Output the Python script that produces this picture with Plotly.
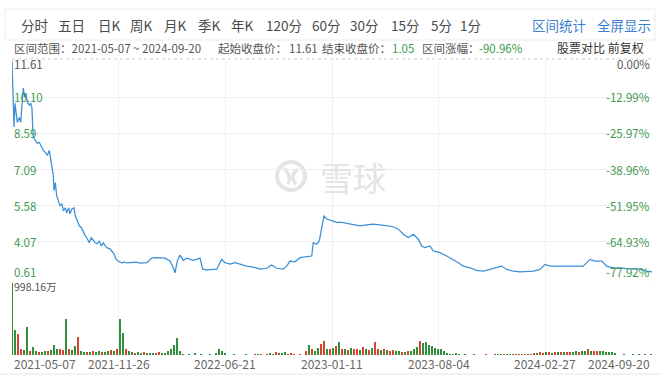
import plotly.graph_objects as go

W, H = 660, 376

# ---------------- data ----------------
price_t = [0, 2, 3, 4, 5.3, 7.3, 8.7, 10, 11.3, 12.7, 14, 15.3, 17.3, 18.7, 20, 20.7, 21.3, 23.3, 25.3,
           27.3, 29.3, 31.3, 33.3, 35.3, 37.3, 38.7, 40, 41.3, 42, 43.3, 44.7, 46.7, 48, 50, 51.3, 53.3,
           54.7, 56.7, 58, 60, 62, 63.3, 65.3, 67.3, 69.3, 71.3, 73.3, 75.3, 77.3, 79.3, 81.3, 83.3, 85.3,
           87.3, 89.3, 91.3, 93.3, 95.3, 98, 100, 102, 104, 106, 108, 110, 112, 114.7, 118, 124, 128,
           134.7, 139.7, 144.7, 153, 158, 161.3, 163, 165.3, 168, 171.3, 174.7, 181.3, 188, 190.7, 194.7,
           204.7, 209.7, 213, 218, 223, 228, 234.7, 241.3, 248, 254.7, 259.7, 264.7, 271.3, 274.7, 278,
           283, 288, 293, 299.7, 301.3, 304.7, 307.3, 309.7, 312, 314.7, 319.7, 324.7, 329.7, 334.7,
           341.3, 348, 354.7, 361.3, 368, 374.7, 381.3, 386.3, 391.3, 396.3, 401.3, 406.3, 409.7, 413,
           418, 421.3, 428, 434.7, 441.3, 446.3, 451.3, 458, 464.7, 471.3, 478, 484.7, 489.7, 494.7,
           501.3, 508, 514.7, 521.3, 528, 533, 538, 544.7, 551.3, 558, 564.7, 571.3, 578, 583, 589.7,
           594.7, 601.3, 608, 614.7, 621.3, 628, 634.7, 640]
price_v = [11.61, 8.86, 9.85, 9.43, 9.05, 9.26, 9.05, 9.77, 10.48, 10.10, 10.27, 9.89, 9.77, 9.85, 9.64,
           8.85, 8.43, 8.30, 8.18, 8.22, 8.01, 7.88, 7.80, 7.67, 7.88, 7.55, 7.25, 6.83, 6.21, 6.54, 6.00,
           5.70, 5.58, 5.66, 5.37, 5.49, 5.28, 5.49, 5.24, 5.45, 5.49, 5.16, 4.95, 4.74, 4.66, 4.45, 4.32,
           4.20, 4.03, 4.24, 4.11, 4.03, 3.99, 4.11, 3.90, 4.03, 3.90, 3.82, 3.78, 3.69, 3.57, 3.36, 3.27,
           3.23, 3.19, 3.23, 3.19, 3.20, 3.22, 3.18, 3.20, 3.39, 3.41, 3.39, 3.27, 2.99, 2.78, 3.27, 3.52,
           3.30, 3.39, 3.30, 3.39, 2.93, 2.90, 2.93, 3.34, 3.20, 3.14, 3.20, 3.14, 3.06, 3.02, 2.93, 2.97,
           3.11, 2.97, 2.93, 3.06, 3.27, 3.24, 3.41, 3.44, 3.48, 4.04, 3.97, 4.11, 4.67, 5.16, 5.02, 4.95,
           4.88, 4.88, 4.84, 4.81, 4.74, 4.78, 4.81, 4.78, 4.74, 4.70, 4.60, 4.39, 4.25, 4.39, 4.18, 3.90,
           3.83, 3.90, 3.69, 3.62, 3.48, 3.34, 3.20, 3.06, 2.99, 2.88, 2.85, 2.92, 2.99, 3.06, 2.92, 2.85,
           2.82, 2.82, 2.85, 2.92, 3.13, 3.06, 3.06, 3.09, 3.06, 3.06, 3.06, 3.34, 3.27, 3.27, 3.06, 2.99,
           2.99, 2.95, 2.93, 2.93, 2.85, 2.82]

vol_step = 3
vol_v = [998, 340, 290, 80, 70, 388, 60, 111, 50, 45, 40, 55, 60, 70, 139, 80, 90, 75, 500, 90,
         70, 120, 254, 60, 45, 35, 40, 50, 35, 55, 45, 40, 60, 70, 55, 90, 500, 305, 90, 60,
         40, 30, 35, 30, 40, 30, 25, 30, 25, 35, 25, 30, 60, 80, 139, 235, 60, 20, 0, 15,
         0, 25, 0, 10, 0, 0, 20, 0, 30, 83, 50, 30, 0, 0, 10, 0, 0, 0, 10, 0,
         0, 20, 15, 20, 0, 20, 25, 15, 40, 30, 25, 45, 20, 30, 20, 0, 15, 0, 60, 139,
         90, 60, 100, 150, 190, 90, 80, 100, 120, 180, 80, 90, 70, 100, 80, 90, 70, 110, 80, 70,
         100, 180, 90, 75, 85, 70, 60, 65, 55, 50, 45, 40, 50, 60, 80, 110, 200, 160, 180, 140,
         120, 100, 90, 80, 60, 30, 20, 15, 25, 10, 0, 15, 0, 0, 10, 0, 0, 0, 8, 0,
         0, 8, 10, 8, 10, 8, 10, 8, 10, 12, 10, 8, 10, 12, 25, 30, 35, 30, 40, 35,
         30, 45, 40, 35, 40, 35, 45, 40, 50, 45, 55, 60, 88, 60, 55, 50, 60, 55, 40, 45,
         35, 30, 0, 0, 8, 0, 0, 8, 0, 8, 0, 8, 0, 8]
vol_dir = list("ggrrggrggrggrgg" "grrgrggrggrgrggrggrg" "rggrggrggrgggrrggggg"
               "gggggggrgrggggggggg" "grgggrgrgrgrggrgggrr" "rgrrrgrggrrgrgrgrgrg"
               "rrgrgrgrrgrgrrggrgrg" "ggrggggggggggggggggg" "ggggrggrggrggrrgrrgr"
               "rgrrgrgrgrgrrggrggrg" "rrgggggggggggg")

x_tick_labels = ["2021-05-07", "2021-11-26", "2022-06-21", "2023-01-11",
                 "2023-08-04", "2024-02-27", "2024-09-20"]
price_base = 11.61
pct_ticks = [0.00, -12.99, -25.97, -38.96, -51.95, -64.93, -77.92]
price_tick_labels = ["11.61", "10.10", "8.59", "7.09", "5.58", "4.07", "0.61"]
vol_max = 998.16
vol_max_label = "998.16万"

toolbar_items = ["分时", "五日", "日K", "周K", "月K", "季K", "年K", "120分", "60分", "30分", "15分", "5分", "1分"]
toolbar_x = [19, 56, 96, 128, 162, 196, 229, 264, 310, 348, 389, 429, 458]

# ---------------- helpers ----------------
def px(x):
    return x / W


def py(y):
    return 1 - y / H


T_MAX = 640
x_tick_pos = [i * T_MAX / 6 for i in range(7)]
price_tick_pos = [price_base * (1 + p / 100) for p in pct_ticks]

vol_t = [i * vol_step for i in range(len(vol_v))]
RED, GREEN = "#d8452e", "#2f8f3f"
vol_colors = [RED if d == "r" else GREEN for d in vol_dir[:len(vol_v)]]
while len(vol_colors) < len(vol_v):
    vol_colors.append(GREEN)

FONT = "Noto Sans CJK SC"
GRID = "#efefef"
TXT = "#555555"
GRN = "#3f9a50"
BLUE = "#3d7fd0"

fig = go.Figure()
fig.add_trace(go.Scatter(x=price_t, y=price_v, mode="lines",
                         line=dict(color="#3b8fd8", width=1.25),
                         xaxis="x", yaxis="y", hoverinfo="skip"))
fig.add_trace(go.Bar(x=vol_t, y=vol_v, marker=dict(color=vol_colors, line=dict(width=0)),
                     width=1.6, xaxis="x2", yaxis="y2", hoverinfo="skip"))

xdom = [px(12), px(652)]
fig.update_layout(
    width=W, height=H, margin=dict(l=0, r=0, t=0, b=0),
    paper_bgcolor="white", plot_bgcolor="white", showlegend=False,
    font=dict(family=FONT, color=TXT),
    bargap=0,
    xaxis=dict(domain=xdom, range=[0, T_MAX], tickvals=x_tick_pos, showticklabels=False,
               showgrid=True, gridcolor=GRID, zeroline=False, showline=False, anchor="y"),
    yaxis=dict(domain=[py(278), py(61)], range=[price_tick_pos[-1], price_tick_pos[0]],
               tickvals=price_tick_pos[1:6], showticklabels=False, showgrid=True,
               gridcolor=GRID, zeroline=False, anchor="x"),
    xaxis2=dict(domain=xdom, range=[0, T_MAX], tickvals=x_tick_pos, showticklabels=False,
                showgrid=True, gridcolor=GRID, zeroline=False, anchor="y2"),
    yaxis2=dict(domain=[py(355), py(283)], range=[0, vol_max], showticklabels=False,
                showgrid=False, zeroline=False, anchor="x2"),
)

shapes = []
shapes.append(dict(type="rect", xref="paper", yref="paper", x0=px(5), x1=px(655), y0=py(40), y1=py(9),
                   line=dict(color="#ececec", width=1), fillcolor="rgba(0,0,0,0)", layer="below"))
shapes.append(dict(type="line", xref="paper", yref="paper", x0=px(12), x1=px(652), y0=py(59), y1=py(59),
                   line=dict(color="#cfcfcf", width=1, dash="dot")))
for t in x_tick_pos:
    shapes.append(dict(type="line", xref="x", yref="paper", x0=t, x1=t, y0=py(283), y1=py(278),
                       line=dict(color=GRID, width=1), layer="below"))
shapes.append(dict(type="line", xref="paper", yref="paper", x0=px(0), x1=px(660), y0=py(374), y1=py(374),
                   line=dict(color="#e6e6e6", width=1)))
shapes.append(dict(type="circle", xref="paper", yref="paper", x0=px(277), x1=px(305), y0=py(190), y1=py(162),
                   line=dict(color="#e4e4e4", width=4), layer="below"))
shapes.append(dict(type="path", xref="paper", yref="paper",
                   path=f"M {px(284)},{py(168)} Q {px(292)},{py(176)} {px(288)},{py(184)} "
                        f"M {px(298)},{py(169)} Q {px(289)},{py(176)} {px(296)},{py(184)}",
                   line=dict(color="#e4e4e4", width=3.5), layer="below"))
fig.update_layout(shapes=shapes)

ann = []
ann.append(dict(text="雪球", x=px(318), y=py(177), xref="paper", yref="paper", xanchor="left",
                yanchor="middle", showarrow=False, font=dict(size=33, color="#e4e4e4", family=FONT)))
for lab, xx in zip(toolbar_items, toolbar_x):
    ann.append(dict(text=lab, x=px(xx), y=py(25), xref="paper", yref="paper", xanchor="left",
                    yanchor="middle", showarrow=False, font=dict(size=13.5, color="#4a4a4a")))
ann.append(dict(text="区间统计", x=px(530), y=py(25), xref="paper", yref="paper", xanchor="left",
                yanchor="middle", showarrow=False, font=dict(size=13.5, color=BLUE)))
ann.append(dict(text="全屏显示", x=px(595), y=py(25), xref="paper", yref="paper", xanchor="left",
                yanchor="middle", showarrow=False, font=dict(size=13.5, color=BLUE)))
info = [("区间范围：2021-05-07 ~ 2024-09-20", 12, TXT),
        ("起始收盘价：", 216, TXT), ("11.61", 287, TXT),
        ("结束收盘价：", 320, TXT), ("1.05", 390, GRN),
        ("区间涨幅：", 420, TXT), ("-90.96%", 477, GRN)]
for txt, xx, col in info:
    ann.append(dict(text=txt, x=px(xx), y=py(48), xref="paper", yref="paper", xanchor="left",
                    yanchor="middle", showarrow=False, font=dict(size=11.5, color=col)))
ann.append(dict(text="股票对比 前复权", x=px(646), y=py(48), xref="paper", yref="paper", xanchor="right",
                yanchor="middle", showarrow=False, font=dict(size=12, color="#333333")))
n = len(price_tick_pos)
for i, (pv, lab, pc) in enumerate(zip(price_tick_pos, price_tick_labels, pct_ticks)):
    shift = -3 if i == 0 else (6 if i == n - 1 else 0)
    col = TXT if i == 0 else GRN
    ann.append(dict(text=lab, x=px(12), y=pv, xref="paper", yref="y", xanchor="left", yanchor="middle",
                    yshift=shift, showarrow=False, font=dict(size=11.5, color=col)))
    ann.append(dict(text=f"{pc:.2f}%", x=px(652), y=pv, xref="paper", yref="y", xanchor="right",
                    yanchor="middle", yshift=shift, showarrow=False, font=dict(size=11.5, color=col)))
ann.append(dict(text=vol_max_label, x=px(12), y=vol_max, xref="paper", yref="y2", xanchor="left",
                yanchor="middle", yshift=-3, showarrow=False, font=dict(size=10.5, color=TXT)))
for i, (t, lab) in enumerate(zip(x_tick_pos, x_tick_labels)):
    xa = "left" if i == 0 else ("right" if i == len(x_tick_labels) - 1 else "center")
    ann.append(dict(text=lab, x=t, y=py(363), xref="x", yref="paper", xanchor=xa, yanchor="middle",
                    showarrow=False, font=dict(size=12, color="#666666")))
fig.update_layout(annotations=ann)

fig.write_html("out.html", config={"displayModeBar": False, "staticPlot": True},
               post_script="document.body.style.margin='0';document.body.style.overflow='hidden';")
